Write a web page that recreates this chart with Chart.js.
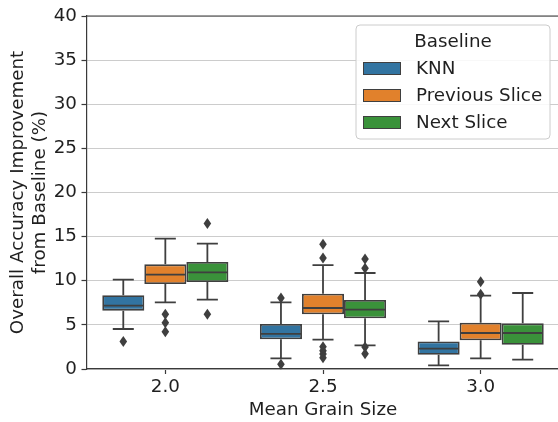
<!DOCTYPE html>
<html>
<head>
<meta charset="utf-8">
<script src="https://cdn.jsdelivr.net/npm/chart.js@4.4.0/dist/chart.umd.min.js"></script>
<style>
html,body{margin:0;padding:0;overflow:hidden;background:#fff;}
canvas{display:block;}
</style>
</head>
<body>
<canvas id="c" width="566" height="422"></canvas>
<script>
// ---- data ----
const categories = ['2.0', '2.5', '3.0'];
const seriesNames = ['KNN', 'Previous Slice', 'Next Slice'];
const seriesColors = ['#3274a1', '#e1812c', '#3a923a'];
const yTicks = [0, 5, 10, 15, 20, 25, 30, 35, 40];

// per series: lower whisker, Q1, median, Q3, upper whisker, outliers
const knnLow = [4.53, 1.2, 0.42];
const knnQ1 = [6.61, 3.36, 1.62];
const knnMed = [7.18, 3.97, 2.3];
const knnQ3 = [8.35, 5.1, 3.13];
const knnHigh = [10.12, 7.55, 5.4];
const knnOut = [[3.13], [8.05, 0.53], []];

const prevLow = [7.55, 3.32, 1.21];
const prevQ1 = [9.63, 6.2, 3.25];
const prevMed = [10.69, 6.91, 4.08];
const prevQ3 = [11.86, 8.54, 5.25];
const prevHigh = [14.77, 11.78, 8.31];
const prevOut = [[6.2, 5.25, 4.23], [14.13, 12.58, 2.53, 2.07, 1.7, 1.28], [9.9, 8.46]];

const nextLow = [7.86, 2.68, 1.06];
const nextQ1 = [9.86, 5.74, 2.75];
const nextMed = [10.95, 6.72, 4.08];
const nextQ3 = [12.12, 7.82, 5.17];
const nextHigh = [14.2, 10.88, 8.61];
const nextOut = [[16.5, 6.2], [12.46, 11.41, 2.5, 1.74], []];

const stats = [
  {lo: knnLow, q1: knnQ1, med: knnMed, q3: knnQ3, hi: knnHigh, out: knnOut},
  {lo: prevLow, q1: prevQ1, med: prevMed, q3: prevQ3, hi: prevHigh, out: prevOut},
  {lo: nextLow, q1: nextQ1, med: nextMed, q3: nextQ3, hi: nextHigh, out: nextOut}
];

// ---- style ----
const EDGE = '#3f3f3f';
const LW = 1.8;
const TEXT = '#1f1f1f';
const SPINE = '#3a3a3a';
const FONT = 'DejaVu Sans';
const FS = 18.3;

const boxPlugin = {
  id: 'boxExtras',
  afterDatasetsDraw(chart) {
    const ctx = chart.ctx;
    const y = chart.scales.y;
    chart.data.datasets.forEach((ds, di) => {
      const meta = chart.getDatasetMeta(di);
      const s = stats[di];
      meta.data.forEach((bar, i) => {
        const p = bar.getProps(['x', 'width'], true);
        const x = p.x, half = p.width / 2;
        const py = v => y.getPixelForValue(v);
        ctx.save();
        ctx.strokeStyle = EDGE;
        ctx.lineWidth = LW;
        ctx.lineCap = 'butt';
        ctx.beginPath();
        ctx.moveTo(x, py(s.q3[i])); ctx.lineTo(x, py(s.hi[i]));
        ctx.moveTo(x, py(s.q1[i])); ctx.lineTo(x, py(s.lo[i]));
        ctx.moveTo(x - half / 2, py(s.hi[i])); ctx.lineTo(x + half / 2, py(s.hi[i]));
        ctx.moveTo(x - half / 2, py(s.lo[i])); ctx.lineTo(x + half / 2, py(s.lo[i]));
        ctx.moveTo(x - half + 1, py(s.med[i])); ctx.lineTo(x + half - 1, py(s.med[i]));
        ctx.stroke();
        ctx.fillStyle = EDGE;
        s.out[i].forEach(v => {
          const oy = py(v);
          ctx.beginPath();
          ctx.moveTo(x, oy - 5.5);
          ctx.lineTo(x + 3.8, oy);
          ctx.lineTo(x, oy + 5.5);
          ctx.lineTo(x - 3.8, oy);
          ctx.closePath();
          ctx.fill();
        });
        ctx.restore();
      });
    });
  },
  afterDraw(chart) {
    const ctx = chart.ctx;
    const a = chart.chartArea;
    ctx.save();
    ctx.strokeStyle = SPINE;
    ctx.lineWidth = 1.2;
    ctx.beginPath();
    ctx.moveTo(a.left, a.top); ctx.lineTo(a.right, a.top); ctx.lineTo(a.right, a.bottom);
    ctx.stroke();
    // legend
    const lx = 356, ly = 25, lw = 194, lh = 114, r = 4;
    ctx.fillStyle = 'rgba(255,255,255,0.85)';
    ctx.strokeStyle = '#cccccc';
    ctx.lineWidth = 1;
    ctx.beginPath();
    ctx.moveTo(lx + r, ly);
    ctx.arcTo(lx + lw, ly, lx + lw, ly + lh, r);
    ctx.arcTo(lx + lw, ly + lh, lx, ly + lh, r);
    ctx.arcTo(lx, ly + lh, lx, ly, r);
    ctx.arcTo(lx, ly, lx + lw, ly, r);
    ctx.closePath();
    ctx.fill();
    ctx.stroke();
    ctx.font = FS + 'px "' + FONT + '"';
    ctx.fillStyle = TEXT;
    ctx.textBaseline = 'middle';
    ctx.textAlign = 'center';
    ctx.fillText('Baseline', lx + lw / 2, 42);
    ctx.textAlign = 'left';
    chart.data.datasets.forEach((ds, di) => {
      const cy = 68.5 + di * 27;
      ctx.fillStyle = ds.backgroundColor;
      ctx.fillRect(363, cy - 6.5, 38, 13);
      ctx.strokeStyle = EDGE;
      ctx.lineWidth = 1;
      ctx.strokeRect(363.5, cy - 6, 37, 12);
      ctx.fillStyle = TEXT;
      ctx.fillText(ds.label, 416, cy + 1);
    });
    ctx.restore();
  }
};

new Chart(document.getElementById('c'), {
  type: 'bar',
  data: {
    labels: categories,
    datasets: seriesNames.map((name, di) => ({
      label: name,
      data: categories.map((c, i) => [stats[di].q1[i], stats[di].q3[i]]),
      backgroundColor: seriesColors[di],
      borderColor: EDGE,
      borderWidth: LW,
      borderSkipped: false,
      categoryPercentage: 0.8,
      barPercentage: 1.0
    }))
  },
  options: {
    responsive: false,
    animation: false,
    devicePixelRatio: 1,
    layout: {padding: {left: 0, right: 6.5, top: 16, bottom: 0}},
    plugins: {legend: {display: false}, tooltip: {enabled: false}},
    scales: {
      x: {
        type: 'category',
        offset: true,
        grid: {display: true, offset: false, drawOnChartArea: false, drawTicks: true, tickLength: 5, tickColor: SPINE, tickWidth: 1.2},
        border: {display: true, color: SPINE, width: 1.2},
        ticks: {color: TEXT, font: {family: FONT, size: FS}, padding: 2},
        title: {display: true, text: 'Mean Grain Size', color: TEXT, font: {family: FONT, size: FS}, padding: {top: 0, bottom: 1}},
        afterFit(scale) { scale.height = 53; }
      },
      y: {
        min: 0,
        max: 40,
        afterBuildTicks(scale) { scale.ticks = yTicks.map(v => ({value: v})); },
        grid: {color: '#cccccc', lineWidth: 1, drawTicks: true, tickLength: 5, tickColor: SPINE, tickWidth: 1.2},
        border: {display: true, color: SPINE, width: 1.2},
        ticks: {color: TEXT, font: {family: FONT, size: FS}, padding: 4.5},
        title: {display: true, text: ['Overall Accuracy Improvement', 'from Baseline (%)'], color: TEXT, font: {family: FONT, size: FS, lineHeight: 1.2}, padding: {top: 7, bottom: 0}},
        afterFit(scale) { scale.width = 86.5; }
      }
    }
  },
  plugins: [boxPlugin]
});
</script>
</body>
</html>
